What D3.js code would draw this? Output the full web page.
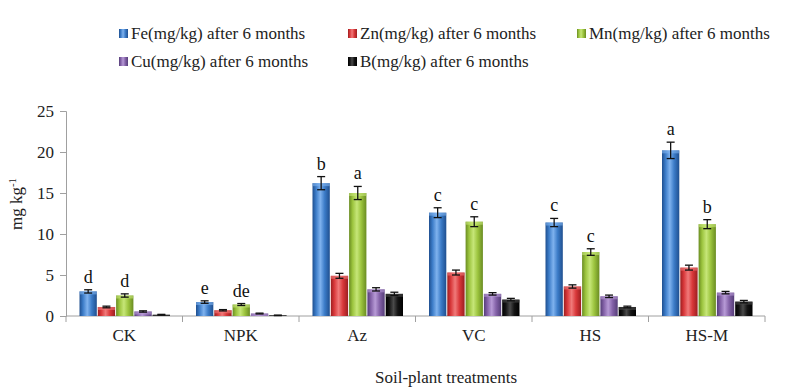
<!DOCTYPE html>
<html><head><meta charset="utf-8">
<script src="https://cdn.jsdelivr.net/npm/d3@7"></script>
<style>body{margin:0;background:#fff}svg{display:block} text{font-family:"Liberation Serif","Times New Roman",serif !important}</style>
</head><body><svg id="c" width="800" height="390"></svg>
<script>
const categories = ["CK","NPK","Az","VC","HS","HS-M"];
const seriesNames = ["Fe(mg/kg) after 6 months","Zn(mg/kg) after 6 months","Mn(mg/kg) after 6 months","Cu(mg/kg) after 6 months","B(mg/kg) after 6 months"];
const Fe = [3.0, 1.7, 16.2, 12.6, 11.4, 20.2];
const Zn = [1.1, 0.7, 4.9, 5.3, 3.6, 5.9];
const Mn = [2.5, 1.4, 15.0, 11.5, 7.8, 11.2];
const Cu = [0.55, 0.3, 3.25, 2.7, 2.4, 2.85];
const B  = [0.15, 0.08, 2.7, 2.0, 1.1, 1.75];
const FeErr = [0.2, 0.15, 0.8, 0.6, 0.5, 1.0];
const ZnErr = [0.1, 0.08, 0.3, 0.3, 0.2, 0.3];
const MnErr = [0.2, 0.12, 0.8, 0.6, 0.4, 0.55];
const CuErr = [0.08, 0.05, 0.2, 0.15, 0.15, 0.15];
const BErr  = [0.05, 0.03, 0.2, 0.15, 0.1, 0.15];
const FeLetters = ["d","e","b","c","c","a"];
const MnLetters = ["d","de","a","c","c","b"];
const yTicks = [0,5,10,15,20,25];
const colors = ["#3c7cc8","#d9383a","#9cc43e","#8462a8","#141414"];
const darks  = ["#1f4f8f","#9c1e20","#6a8c22","#553d78","#000000"];
const lights = ["#7fb2ee","#f07a7a","#c6e678","#b79ad6","#4a4a4a"];

const values = [Fe,Zn,Mn,Cu,B];
const errs = [FeErr,ZnErr,MnErr,CuErr,BErr];
const FONT = "Liberation Serif, Times New Roman, serif";

const svg = d3.select("#c");
const m = {l:66, r:35, t:111, b:74};
const W = 800, H = 390;
const x0 = d3.scaleBand().domain(categories).range([m.l, W-m.r]).paddingInner(0).paddingOuter(0);
const x1 = d3.scaleBand().domain(d3.range(5)).range([13, x0.bandwidth()-12]).padding(0);
const y = d3.scaleLinear().domain([0,25]).range([H-m.b, m.t]);

const defs = svg.append("defs");
colors.forEach((c,i)=>{
  const g = defs.append("linearGradient").attr("id","g"+i).attr("x1","0").attr("x2","1").attr("y1","0").attr("y2","0");
  g.append("stop").attr("offset","0%").attr("stop-color",darks[i]);
  g.append("stop").attr("offset","20%").attr("stop-color",c);
  g.append("stop").attr("offset","45%").attr("stop-color",lights[i]);
  g.append("stop").attr("offset","70%").attr("stop-color",c);
  g.append("stop").attr("offset","100%").attr("stop-color",darks[i]);
});

// axes
const yAxis = d3.axisLeft(y).tickValues(yTicks).tickSize(6).tickPadding(6);
const ga = svg.append("g").attr("transform",`translate(${m.l},0)`).call(yAxis).attr("font-family",FONT);
ga.select(".domain").attr("stroke","#a0a0a0");
ga.selectAll(".tick line").attr("stroke","#a0a0a0");
ga.selectAll(".tick text").attr("font-size",17).attr("fill","#222");

const xg = svg.append("g").attr("transform",`translate(0,${y(0)})`).attr("font-family",FONT);
xg.append("line").attr("x1",m.l).attr("x2",W-m.r).attr("stroke","#a0a0a0");
const bounds = categories.map(c=>x0(c)).concat([x0(categories[categories.length-1])+x0.bandwidth()]);
xg.selectAll("line.t").data(bounds).join("line").attr("class","t")
  .attr("x1",d=>d).attr("x2",d=>d).attr("y1",0).attr("y2",6).attr("stroke","#a0a0a0");
xg.selectAll("text").data(categories).join("text")
  .attr("x",d=>x0(d)+x0.bandwidth()/2).attr("y",25).attr("text-anchor","middle")
  .attr("font-size",17).attr("fill","#222").text(d=>d);

// bars
const groups = svg.append("g").selectAll("g").data(categories).join("g")
  .attr("transform",d=>`translate(${x0(d)},0)`);
groups.each(function(cat,ci){
  const g = d3.select(this);
  for(let s=0;s<5;s++){
    const v = values[s][ci], e = errs[s][ci];
    const bx = x1(s), bw = x1.bandwidth();
    g.append("rect").attr("x",bx+0.5).attr("y",y(v)).attr("width",bw-1).attr("height",y(0)-y(v))
      .attr("fill",`url(#g${s})`);
    g.append("rect").attr("x",bx+0.5).attr("y",y(v)).attr("width",bw-1).attr("height",Math.min(3,y(0)-y(v)))
      .attr("fill",lights[s]).attr("opacity",0.6);
    const cx = bx + bw/2;
    const eb = g.append("g").attr("stroke","#111").attr("stroke-width",1.3);
    eb.append("line").attr("x1",cx).attr("x2",cx).attr("y1",y(v+e)).attr("y2",y(v-e));
    eb.append("line").attr("x1",cx-4).attr("x2",cx+4).attr("y1",y(v+e)).attr("y2",y(v+e));
    eb.append("line").attr("x1",cx-4).attr("x2",cx+4).attr("y1",y(v-e)).attr("y2",y(v-e));
    let lab = s===0 ? FeLetters[ci] : (s===2 ? MnLetters[ci] : null);
    if(lab){
      g.append("text").attr("x",cx).attr("y",y(v+e)-7).attr("text-anchor","middle")
        .attr("font-family",FONT).attr("font-size",18).attr("fill","#111").text(lab);
    }
  }
});

// axis titles
svg.append("text").attr("x",375).attr("y",383).attr("text-anchor","start").attr("font-family",FONT).attr("font-size",17).attr("fill","#222").text("Soil-plant treatments");
const yl = svg.append("text").attr("transform","translate(22,204) rotate(-90)").attr("text-anchor","middle").attr("font-family",FONT).attr("font-size",17).attr("fill","#222");
yl.append("tspan").text("mg kg");
yl.append("tspan").attr("dy",-6).attr("font-size",11).text("-1");

// legend
const legPos = [[119,34],[348,34],[577,34],[119,62],[348,62]];
const leg = svg.append("g").attr("font-family",FONT).selectAll("g").data(seriesNames).join("g")
  .attr("transform",(d,i)=>`translate(${legPos[i][0]},${legPos[i][1]})`);
leg.append("rect").attr("x",0).attr("y",-5).attr("width",9).attr("height",9).attr("fill",(d,i)=>`url(#g${i})`);
leg.append("text").attr("x",12).attr("y",5).attr("font-size",17).attr("fill","#222").text(d=>d);
</script></body></html>
